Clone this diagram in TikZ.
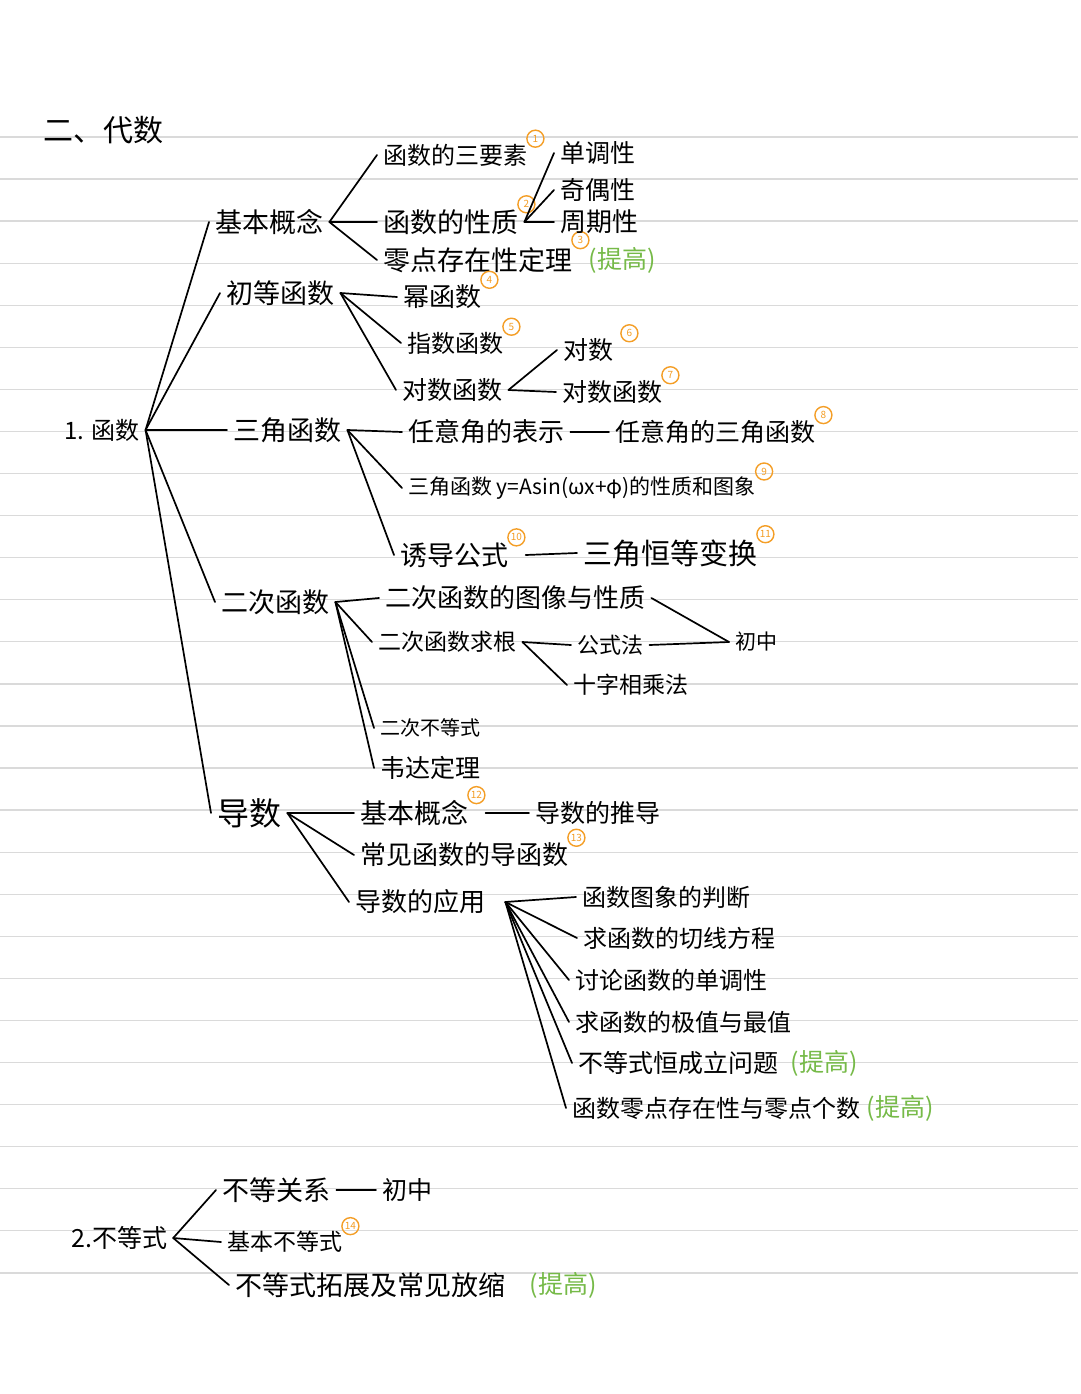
\documentclass[tikz,border=0pt]{standalone}
\usepackage{fontspec}
\setmainfont{Noto Sans CJK SC}
\usepackage{tikz}
\usetikzlibrary{positioning,calc}
\definecolor{myorange}{RGB}{244,158,38}
\definecolor{mygreen}{RGB}{118,186,72}
\definecolor{myrule}{RGB}{218,218,218}
\tikzstyle{item}=[anchor=west,inner xsep=6pt,inner ysep=2pt]
\tikzstyle{link}=[line width=1.7pt,line cap=round]
\tikzstyle{num}=[circle,draw=myorange,text=myorange,line width=1.4pt,minimum size=17pt,inner sep=0pt,font=\fontsize{10}{10}\selectfont]
\tikzstyle{up}=[item,text=mygreen]
\tikzset{fs/.style={font=\fontsize{#1}{#1}\selectfont}}

\begin{document}
\begin{tikzpicture}[x=1pt,y=-1pt]
\useasboundingbox (0,0) rectangle (1080,1394);
\fill[white] (0,0) rectangle (1080,1394);
\foreach \k in {0,...,27}
  \draw[myrule,line width=1.3pt] (0,{137+42.07*\k}) -- (1078,{137+42.07*\k});

\node[item,fs=30] (title) at (37,130) {二、代数};
\node[item,fs=24] (fn) at (58,430) {1. 函数};

\node[item,fs=27] (jb) at (209,222) {基本概念};
\node[item,fs=27] (cd) at (220,293) {初等函数};
\node[item,fs=27] (sj) at (227,430) {三角函数};
\node[item,fs=27] (ec) at (215,602) {二次函数};
\node[item,fs=32] (ds) at (211,813) {导数};

\node[item,fs=24] (yxs) at (377,155) {函数的三要素};
\node[item,fs=27] (xz) at (377,222) {函数的性质};
\node[item,fs=27] (ld) at (377,260) {零点存在性定理};
\node[up,fs=25,right=4pt of ld] (ti1) {(提高)};
\node[num] (c1) at ([xshift=2pt,yshift=3pt]yxs.north east) {1};
\node[num] (c2) at ([xshift=2pt,yshift=3pt]xz.north east) {2};
\node[num] (c3) at ([xshift=2pt,yshift=5pt]ld.north east) {3};
\node[item,fs=25] (dd) at (554,153) {单调性};
\node[item,fs=25] (jo) at (554,190) {奇偶性};
\node[item,fs=26] (zq) at (554,222) {周期性};

\node[item,fs=26] (mh) at (397,297) {幂函数};
\node[item,fs=24] (zs) at (401,343) {指数函数};
\node[item,fs=25] (dsh) at (396,390) {对数函数};
\node[num] (c4) at ([xshift=2pt,yshift=3pt]mh.north east) {4};
\node[num] (c5) at ([xshift=2pt,yshift=3pt]zs.north east) {5};
\node[item,fs=25] (dshu) at (557,350) {对数};
\node[item,fs=25] (dshf) at (556,392) {对数函数};
\node[num] (c6) at ([xshift=10pt,yshift=3pt]dshu.north east) {6};
\node[num] (c7) at ([xshift=2pt,yshift=3pt]dshf.north east) {7};

\node[item,fs=26] (ry) at (402,432) {任意角的表示};
\node[item,fs=25] (ry2) at (609,432) {任意角的三角函数};
\node[item,fs=21] (sjx) at (402,488) {三角函数 y=Asin(ωx+φ)的性质和图象};
\node[item,fs=27] (yd) at (394,555) {诱导公式};
\node[item,fs=29] (hd) at (577,553) {三角恒等变换};
\node[num] (c8) at ([xshift=2pt,yshift=3pt]ry2.north east) {8};
\node[num] (c9) at ([xshift=2pt,yshift=3pt]sjx.north east) {9};
\node[num] (c10) at ([xshift=2pt,yshift=3pt]yd.north east) {10};
\node[num] (c11) at ([xshift=2pt,yshift=3pt]hd.north east) {11};

\node[item,fs=26] (ecx) at (379,598) {二次函数的图像与性质};
\node[item,fs=23] (qg) at (372,642) {二次函数求根};
\node[item,fs=22] (gsf) at (571,645) {公式法};
\node[item,fs=23] (szf) at (567,685) {十字相乘法};
\node[item,fs=21] (cz) at (729,642) {初中};
\node[item,fs=20] (bds) at (374,728) {二次不等式};
\node[item,fs=25] (wd) at (374,768) {韦达定理};

\node[item,fs=27] (jb2) at (354,813) {基本概念};
\node[num] (c12) at ([xshift=2pt,yshift=3pt]jb2.north east) {12};
\node[item,fs=25] (tdao) at (529,813) {导数的推导};
\node[item,fs=26] (cj) at (354,855) {常见函数的导函数};
\node[num] (c13) at ([xshift=2pt,yshift=3pt]cj.north east) {13};
\node[item,fs=26] (yy) at (349,902) {导数的应用};
\node[item,fs=24] (a1) at (576,897) {函数图象的判断};
\node[item,fs=24] (a2) at (577,938) {求函数的切线方程};
\node[item,fs=24] (a3) at (569,980) {讨论函数的单调性};
\node[item,fs=24] (a4) at (569,1022) {求函数的极值与最值};
\node[item,fs=25] (a5) at (572,1063) {不等式恒成立问题};
\node[up,fs=25,right=0pt of a5] (ti2) {(提高)};
\node[item,fs=24] (a6) at (566,1108) {函数零点存在性与零点个数};
\node[up,fs=25,right=-6pt of a6] (ti3) {(提高)};

\node[item,fs=25] (fb) at (65,1238) {2.不等式};
\node[item,fs=27] (bg) at (216,1190) {不等关系};
\node[item,fs=25] (cz2) at (376,1190) {初中};
\node[item,fs=23] (jbb) at (221,1242) {基本不等式};
\node[num] (c14) at ([xshift=2pt,yshift=3pt]jbb.north east) {14};
\node[item,fs=27] (tz) at (229,1285) {不等式拓展及常见放缩};
\node[up,fs=25,right=12pt of tz] (ti4) {(提高)};

\foreach \c in {jb,cd,sj,ec,ds} \draw[link] (fn.east) -- (\c.west);
\foreach \c in {yxs,xz,ld} \draw[link] (jb.east) -- (\c.west);
\foreach \c in {dd,jo,zq} \draw[link] (xz.east) -- (\c.west);
\foreach \c in {mh,zs,dsh} \draw[link] (cd.east) -- (\c.west);
\foreach \c in {dshu,dshf} \draw[link] (dsh.east) -- (\c.west);
\foreach \c in {ry,sjx,yd} \draw[link] (sj.east) -- (\c.west);
\draw[link] (ry.east) -- (ry2.west);
\draw[link] (yd.east -| c10.east) -- (hd.west);
\foreach \c in {ecx,qg,bds,wd} \draw[link] (ec.east) -- (\c.west);
\foreach \c in {gsf,szf} \draw[link] (qg.east) -- (\c.west);
\draw[link] (ecx.east) -- (cz.west);
\draw[link] (gsf.east) -- (cz.west);
\foreach \c in {jb2,cj,yy} \draw[link] (ds.east) -- (\c.west);
\draw[link] (jb2.east -| c12.east) -- (tdao.west);
\foreach \i in {1,...,6} \draw[link] ([xshift=14pt]yy.east) -- (a\i.west);
\foreach \c in {bg,jbb,tz} \draw[link] (fb.east) -- (\c.west);
\draw[link] (bg.east) -- (cz2.west);
\end{tikzpicture}
\end{document}
